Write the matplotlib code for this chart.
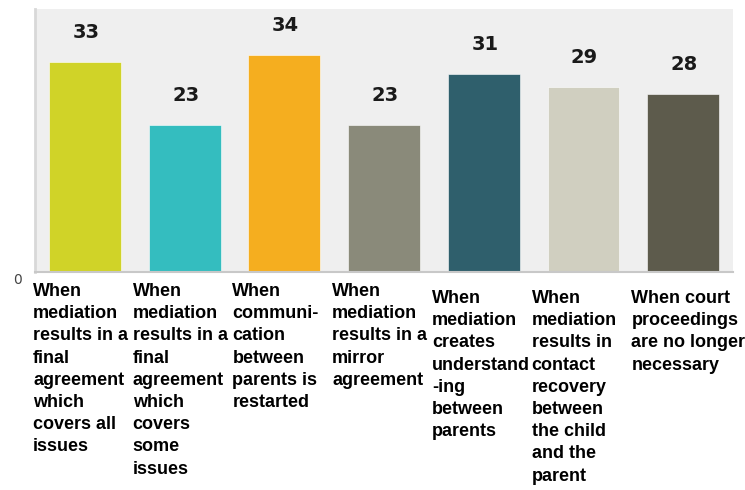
import numpy as np
import matplotlib
matplotlib.use("Agg")
import matplotlib.pyplot as plt

# values
categories = [
    "When\nmediation\nresults in a\nfinal\nagreement\nwhich\ncovers all\nissues",
    "When\nmediation\nresults in a\nfinal\nagreement\nwhich\ncovers\nsome\nissues",
    "When\ncommuni-\ncation\nbetween\nparents is\nrestarted",
    "When\nmediation\nresults in a\nmirror\nagreement",
    "When\nmediation\ncreates\nunderstand\n-ing\nbetween\nparents",
    "When\nmediation\nresults in\ncontact\nrecovery\nbetween\nthe child\nand the\nparent",
    "When court\nproceedings\nare no longer\nnecessary",
]
values = [33, 23, 34, 23, 31, 29, 28]
colors = ["#D0D328", "#34BDBF", "#F5AE1F", "#8A8A7A", "#2F5F6C", "#D0CFC0", "#5D5B4C"]

fig = plt.figure(figsize=(7.45, 4.9), dpi=100)
ax = fig.add_axes([0.047, 0.445, 0.937, 0.537])
ax.set_facecolor("#EFEFEF")

x = np.arange(len(values))
ax.bar(x, values, width=0.72, color=colors, edgecolor="white", linewidth=0.4, zorder=2)

ax.set_xlim(-0.5, len(values) - 0.5)
ax.set_ylim(0, 41.3)

for s in ["top", "right"]:
    ax.spines[s].set_visible(False)
ax.spines["left"].set_color("#D8D8D8")
ax.spines["left"].set_linewidth(2)
ax.spines["bottom"].set_color("#C8C8C8")
ax.spines["bottom"].set_linewidth(1.5)
ax.set_xticks([])
ax.set_yticks([])

# value labels above bars
for xi, v in zip(x, values):
    ax.annotate(str(v), xy=(xi, v), xytext=(1, 24), textcoords="offset pixels",
                ha="center", va="baseline", fontsize=14, fontweight="bold",
                color="#1a1a1a", family="DejaVu Sans")

# category labels under the axis, left aligned in each slot
for i, lab in enumerate(categories):
    dy = -11 if i < 4 else -18
    ax.annotate(lab, xy=(i - 0.5, 0), xycoords=("data", "axes fraction"),
                xytext=(-2, dy), textcoords="offset pixels",
                ha="left", va="top", fontsize=13, fontweight="bold",
                family="Liberation Sans", linespacing=1.4, color="black",
                annotation_clip=False)

ax.annotate("0", xy=(-0.5, 0), xytext=(-18, -8), textcoords="offset pixels",
            ha="center", va="center", fontsize=10, color="#444444",
            annotation_clip=False)

fig.savefig("out.png", dpi=100)
